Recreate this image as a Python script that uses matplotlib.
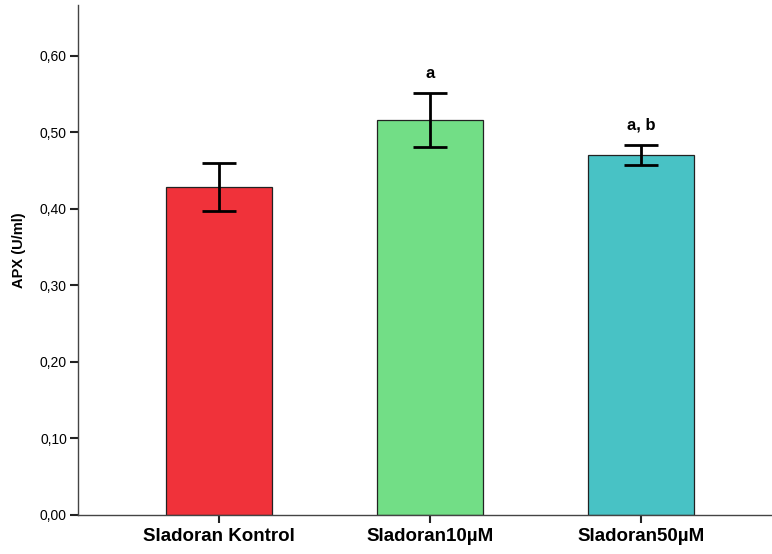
import matplotlib
matplotlib.use("Agg")
import matplotlib.pyplot as plt

plt.rcParams['font.family'] = ['Liberation Sans', 'DejaVu Sans']

groups = ["Sladoran Kontrol", "Sladoran10µM", "Sladoran50µM"]
means = [0.428, 0.516, 0.470]
err_low = [0.397, 0.480, 0.457]
err_high = [0.460, 0.551, 0.483]
letters = ["", "a", "a, b"]
colors = ["#F0323A", "#72DE86", "#48C2C5"]
yticks = [0.0, 0.1, 0.2, 0.3, 0.4, 0.5, 0.6]

fig = plt.figure(figsize=(7.72, 5.54), dpi=100)
ax = fig.add_axes([78 / 772, 1 - 515 / 554, (772 - 78) / 772, (515 - 5) / 554])

x = list(range(len(groups)))
ax.bar(x, means, width=0.5, color=colors, edgecolor="#222222", linewidth=0.9, zorder=2)

yerr = [[m - lo for m, lo in zip(means, err_low)],
        [hi - m for m, hi in zip(means, err_high)]]
ax.errorbar(x, means, yerr=yerr, fmt="none", ecolor="black", elinewidth=2,
            capsize=12, capthick=2, zorder=3)

for xi, hi, lab in zip(x, err_high, letters):
    if lab:
        ax.text(xi, hi + 0.016, lab, ha="center", va="bottom",
                fontsize=12, fontweight="bold")

ax.set_xlim(-0.668, 2.62)
ax.set_ylim(0, 0.666)
ax.set_yticks(yticks)
ax.set_yticklabels([f"{v:.2f}".replace(".", ",") for v in yticks], fontsize=10)
ax.set_xticks(x)
ax.set_xticklabels(groups, fontsize=13.5, fontweight="bold")
ax.set_ylabel("APX (U/ml)", fontsize=10.5, fontweight="bold")
ax.yaxis.set_label_coords(-52 / 694, (515 - 250) / 510)

for side in ["top", "right"]:
    ax.spines[side].set_visible(False)
for side in ["left", "bottom"]:
    ax.spines[side].set_color("#444444")
    ax.spines[side].set_linewidth(1.0)
ax.tick_params(axis="both", direction="out", length=6, width=1.5, color="#222222")
ax.tick_params(axis="y", pad=2)

fig.savefig("out.png", dpi=100)
